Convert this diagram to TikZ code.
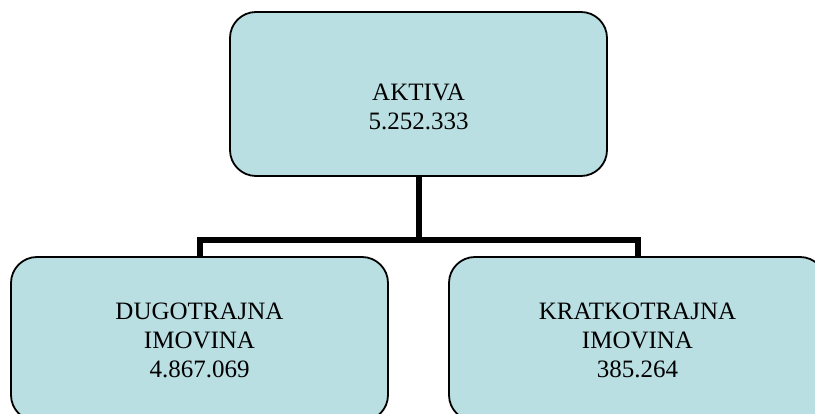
\documentclass[tikz,border=0pt]{standalone}
\usepackage{fontspec}
\setmainfont{Liberation Serif}
\usetikzlibrary{backgrounds}
\definecolor{boxfill}{RGB}{186,223,227}
\begin{document}
\begin{tikzpicture}[x=1pt,y=-1pt,
  box/.style={draw=black, line width=1.8pt, fill=boxfill, rounded corners=26pt, minimum width=377pt, minimum height=164pt, inner sep=0pt},
  txt/.style={align=center, inner sep=0pt, font=\fontsize{25}{29}\selectfont},
  conn/.style={draw=black, line width=6pt}]
\useasboundingbox (0,0) rectangle (815,414);
\clip (0,0) rectangle (815,414);
\coordinate (mid) at (418.5,240);
\node[box] (top) at (418.5,94) {};
\node[box] (left) at (199.5,339) {};
\node[box] (right) at (637.5,339) {};
\begin{scope}[on background layer]
\draw[conn] (top.south) -- (mid);
\draw[conn] (left.north) |- (mid) -| (right.north);
\end{scope}
\node[txt] (toptext) at (418.5,106.5) {AKTIVA\\5.252.333};
\node[txt] (lefttext) at (199.5,340) {DUGOTRAJNA\\IMOVINA\\4.867.069};
\node[txt] (righttext) at (637.5,340) {KRATKOTRAJNA\\IMOVINA\\385.264};
\end{tikzpicture}
\end{document}
